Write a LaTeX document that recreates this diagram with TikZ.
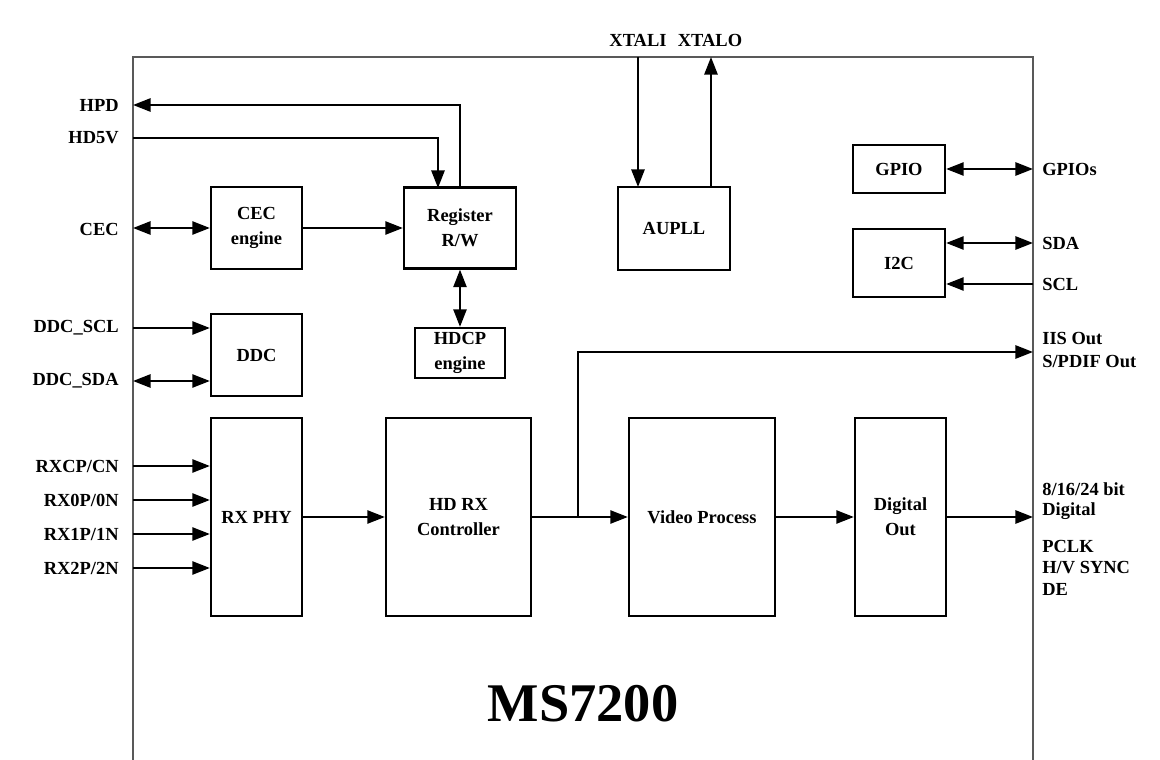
\documentclass[tikz,border=0pt]{standalone}
\usepackage{fontspec}
\setmainfont{Liberation Serif}
\usetikzlibrary{arrows.meta}
\begin{document}
\begin{tikzpicture}[x=0.02cm,y=-0.02cm,
  font=\fontsize{10.5}{14}\selectfont\bfseries,
  blk/.style={draw=black,line width=1.3pt,fill=white,align=center,inner sep=1pt},
  arr/.style={line width=1.2pt,-{Triangle[length=10pt,width=7.5pt]}},
  darr/.style={line width=1.2pt,{Triangle[length=10pt,width=7.5pt]}-{Triangle[length=10pt,width=7.5pt]}},
  lab/.style={anchor=east,inner sep=0pt},
  rlab/.style={anchor=west,inner sep=0pt}]
\useasboundingbox (0,0) rectangle (1160,760);
% outer chip outline
\draw[line width=1.2pt,draw=black!65] (133,760) -- (133,57) -- (1033,57) -- (1033,760);

% blocks
\node[blk,minimum width=1.82cm,minimum height=1.64cm] (cec) at (256.5,228) {CEC\\engine};
\node[blk,minimum width=2.24cm,minimum height=1.62cm] (reg) at (460,228) {Register\\R/W};
\node[blk,minimum width=1.80cm,minimum height=1.00cm] (hdcp) at (460,353) {HDCP\\engine};
\node[blk,minimum width=2.24cm,minimum height=1.66cm] (aupll) at (674,228.5) {AUPLL};
\node[blk,minimum width=1.84cm,minimum height=0.96cm] (gpio) at (899,169) {GPIO};
\node[blk,minimum width=1.84cm,minimum height=1.36cm] (i2c) at (899,263) {I2C};
\node[blk,minimum width=1.82cm,minimum height=1.64cm] (ddc) at (256.5,355) {DDC};
\node[blk,minimum width=1.82cm,minimum height=3.96cm] (rxphy) at (256.5,517) {RX PHY};
\node[blk,minimum width=2.90cm,minimum height=3.96cm] (hdrx) at (458.5,517) {HD RX\\Controller};
\node[blk,minimum width=2.92cm,minimum height=3.96cm] (vp) at (702,517) {Video Process};
\node[blk,minimum width=1.82cm,minimum height=3.96cm] (dout) at (900.5,517) {Digital\\Out};

% pin coordinates
\coordinate (hpd) at (133,105);
\coordinate (hd5v) at (133,138);
\coordinate (regin) at (438,188);
\coordinate (cecpin) at (133,228);
\coordinate (xtali) at (638,57);
\coordinate (xtaliin) at (638,187);
\coordinate (xtalo) at (711,57);
\coordinate (xtaloout) at (711,187);
\coordinate (gpios) at (1033,169);
\coordinate (sda) at (1033,243);
\coordinate (scl) at (1033,284);
\coordinate (ddcscl) at (133,328);
\coordinate (ddcsda) at (133,381);
\coordinate (rxc) at (133,466);
\coordinate (rx0) at (133,500);
\coordinate (rx1) at (133,534);
\coordinate (rx2) at (133,568);
\coordinate (br) at (578,517);
\coordinate (iis) at (1033,352);
\coordinate (dig) at (1033,517);

% connectors
\draw[arr] (reg.north) |- (hpd);
\draw[arr] (hd5v) -| (regin);
\draw[darr] (cecpin) -- (cec.west);
\draw[arr] (cec.east) -- (reg.west);
\draw[darr] (reg.south) -- (hdcp.north);
\draw[arr] (xtali) -- (xtaliin);
\draw[arr] (xtaloout) -- (xtalo);
\draw[darr] (gpio.east) -- (gpios);
\draw[darr] (sda -| i2c.east) -- (sda);
\draw[arr] (scl) -- (scl -| i2c.east);
\draw[arr] (ddcscl) -- (ddcscl -| ddc.west);
\draw[darr] (ddcsda) -- (ddcsda -| ddc.west);
\draw[arr] (rxc) -- (rxc -| rxphy.west);
\draw[arr] (rx0) -- (rx0 -| rxphy.west);
\draw[arr] (rx1) -- (rx1 -| rxphy.west);
\draw[arr] (rx2) -- (rx2 -| rxphy.west);
\draw[arr] (rxphy.east) -- (hdrx.west);
\draw[arr] (hdrx.east) -- (vp.west);
\draw[arr] (br) |- (iis);
\draw[arr] (vp.east) -- (dout.west);
\draw[arr] (dout.east) -- (dig);

% left labels
\node[lab] (lhpd) at (119,105) {HPD};
\node[lab] (lhd5v) at (119,138) {HD5V};
\node[lab] (lcec) at (119,229) {CEC};
\node[lab] (lddcscl) at (119,328) {DDC\_SCL};
\node[lab] (lddcsda) at (119,381) {DDC\_SDA};
\node[lab] (lrxc) at (119,466) {RXCP/CN};
\node[lab] (lrx0) at (119,500) {RX0P/0N};
\node[lab] (lrx1) at (119,534) {RX1P/1N};
\node[lab] (lrx2) at (119,568) {RX2P/2N};
% top labels
\node[inner sep=0pt] (lxi) at (638,40) {XTALI};
\node[inner sep=0pt] (lxo) at (710,40) {XTALO};
% right labels
\node[rlab] (lgpios) at (1042,169) {GPIOs};
\node[rlab] (lsda) at (1042,243) {SDA};
\node[rlab] (lscl) at (1042,284) {SCL};
\node[rlab] (liis) at (1042,339) {IIS Out};
\node[rlab] (lspdif) at (1042,362) {S/PDIF Out};
\node[rlab] (l8) at (1042,489) {8/16/24 bit};
\node[rlab] (ldig) at (1042,511) {Digital};
\node[rlab] (lpclk) at (1042,546) {PCLK};
\node[rlab] (lhv) at (1042,568) {H/V SYNC};
\node[rlab] (lde) at (1042,589) {DE};
% chip name
\node[font=\fontsize{31}{36}\selectfont\bfseries] (title) at (583,704) {MS7200};
\end{tikzpicture}
\end{document}
